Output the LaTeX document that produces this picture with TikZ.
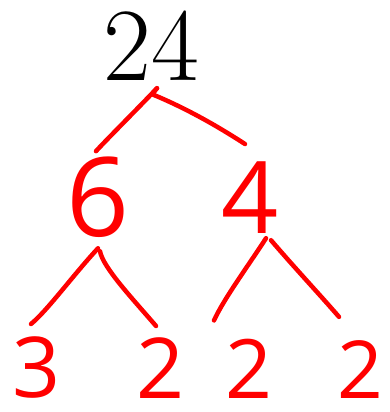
\documentclass[tikz,border=0pt]{standalone}
\usepackage{fontspec}
\newfontfamily\handfont{Open Sans}
\usetikzlibrary{calc}

\begin{document}
\begin{tikzpicture}[x=1pt, y=-1pt,
  topnum/.style={inner sep=0pt, anchor=base, font=\rmfamily\fontsize{104}{104}\selectfont},
  factor/.style={inner sep=0pt, anchor=base, text=red, font=\handfont\fontsize{#1}{#1}\selectfont},
  factor/.default=90,
  branch/.style={draw=red, line width=4.5pt, line cap=round, line join=round}
]
  \useasboundingbox (0,0) rectangle (390,412);

  \node[topnum] (n24) at (151,80) {24};
  \node[factor=110] (n6) at (98,236) {6};
  \node[factor=100] (n4) at (250,233) {4};
  \node[factor=84] (n3) at (37,397) {3};
  \node[factor=84] (n2a) at (161,398) {2};
  \node[factor=82] (n2b) at (249,398) {2};
  \node[factor=80] (n2c) at (360,398) {2};

  \draw[branch] ($(n24.south)+(6,8)$) .. controls ($(n24.south)+(-10,25)$) and ($(n6.north)+(10,-18)$) .. ($(n6.north)+(-2,-5)$);
  \draw[branch] ($(n24.south)+(6,8)$) -- ($(n24.south)+(1,14)$) .. controls ($(n24.south)+(40,30)$) and ($(n4.north)+(-25,-30)$) .. ($(n4.north)+(-5,-17)$);
  \draw[branch] ($(n6.south)+(0,11)$) .. controls ($(n6.south)+(-25,38)$) and ($(n3.north)+(10,-25)$) .. ($(n3.north)+(-6,-12)$);
  \draw[branch] ($(n6.south)+(2,14)$) .. controls ($(n6.south)+(5,30)$) and ($(n2a.north)+(-30,-40)$) .. ($(n2a.north)+(-5,-11)$);
  \draw[branch] ($(n4.south)+(16,5)$) .. controls ($(n4.south)+(0,30)$) and ($(n2b.north)+(-25,-40)$) .. ($(n2b.north)+(-35,-18)$);
  \draw[branch] ($(n4.south)+(21,7)$) .. controls ($(n4.south)+(45,35)$) and ($(n2c.north)+(-40,-45)$) .. ($(n2c.north)+(-21,-23)$);
\end{tikzpicture}
\end{document}
